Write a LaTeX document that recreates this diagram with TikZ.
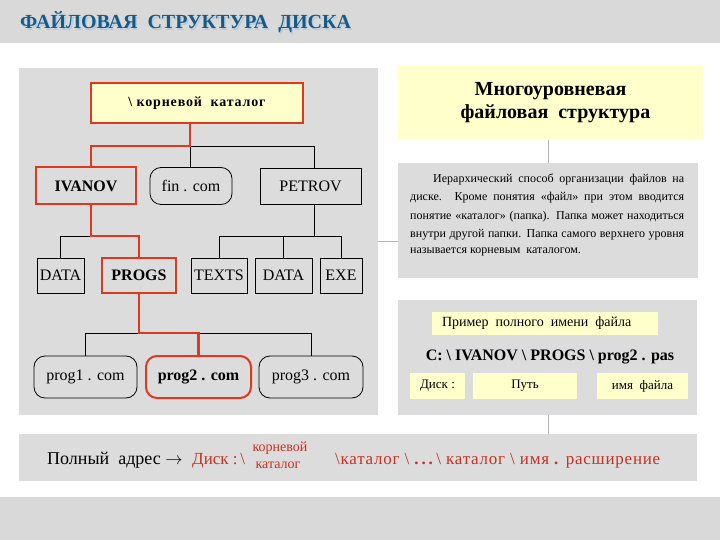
\documentclass[tikz,border=0pt]{standalone}
\usepackage{fontspec}
\setmainfont{Liberation Serif}
\definecolor{pgray}{HTML}{DCDCDC}
\definecolor{hgray}{HTML}{D9D9D9}
\definecolor{pyellow}{HTML}{FFFFCC}
\definecolor{pred}{HTML}{E0381E}
\definecolor{tred}{HTML}{C83020}
\definecolor{tblue}{HTML}{1A5A82}
\definecolor{tshadow}{HTML}{B0CCE2}
\definecolor{cgray}{HTML}{B4B4B4}
\begin{document}
\begin{tikzpicture}[x=1pt,y=-1pt,
  panel/.style={fill=pgray, draw=none, inner sep=0pt},
  ybox/.style={fill=pyellow, draw=none, inner sep=0pt},
  dirbox/.style={draw=black, line width=0.8pt, fill=pgray, inner sep=0pt, font=\fontsize{16}{18}\selectfont},
  reddir/.style={dirbox, draw=pred, line width=2pt, font=\fontsize{16}{18}\selectfont\bfseries},
  filebox/.style={dirbox, rounded corners=11pt},
  redfile/.style={reddir, rounded corners=11pt},
  tline/.style={draw=black, line width=0.8pt},
  rline/.style={draw=pred, line width=2.4pt},
  conn/.style={draw=cgray, line width=1pt},
  ptext/.style={anchor=base west, inner sep=0pt, font=\fontsize{12}{14}\selectfont},
  rtext/.style={inner sep=0pt, text=tred}
]
\useasboundingbox (0,0) rectangle (720,540);
% bands
\fill[hgray] (0,0) rectangle (720,43);
\fill[hgray] (0,497) rectangle (720,540);
\node[anchor=base west, inner sep=0pt, text=tshadow, font=\fontsize{20}{22}\selectfont\bfseries] (titlesh) at (21.5,30.5) {ФАЙЛОВАЯ\ \ СТРУКТУРА\ \ ДИСКА};
\node[anchor=base west, inner sep=0pt, text=tblue, font=\fontsize{20}{22}\selectfont\bfseries] (title) at (20,29) {ФАЙЛОВАЯ\ \ СТРУКТУРА\ \ ДИСКА};

% panels
\node[panel, minimum width=359, minimum height=347] (left) at (198.5,241.5) {};
\node[ybox, minimum width=305, minimum height=73, align=center, font=\fontsize{20}{23}\selectfont\bfseries] (rtitle) at (550.5,103) {Многоуровневая\\ \ \ файловая\ \ структура};
\node[panel, minimum width=300, minimum height=115] (tpanel) at (548,220.5) {};
\node[panel, minimum width=299, minimum height=115] (lpanel) at (547.5,357.5) {};
\node[panel, minimum width=678, minimum height=47] (bottom) at (358,457.5) {};
\coordinate (s1) at (378,241);
\draw[conn] (s1) -- (s1 -| tpanel.west);
\draw[conn] (rtitle.south -| 548,0) -- (tpanel.north -| 548,0);
\draw[conn] (lpanel.south -| 548,0) -- (bottom.north -| 548,0);

% tree nodes
\node[ybox, draw=pred, line width=2pt, minimum width=212, minimum height=40, font=\fontsize{14}{16}\selectfont\bfseries\addfontfeature{LetterSpace=6}] (root) at (197,103) {\textbackslash\ корневой\ \ каталог};
\node[reddir, minimum width=100, minimum height=37] (ivanov) at (86,186) {IVANOV};
\node[filebox, minimum width=82, minimum height=37] (fin) at (191,186) {fin . com};
\node[dirbox, minimum width=101, minimum height=36] (petrov) at (310.5,186) {PETROV};
\node[dirbox, minimum width=47, minimum height=35] (data1) at (60.5,275.5) {DATA};
\node[reddir, minimum width=74, minimum height=35] (progs) at (139,275.5) {PROGS};
\node[dirbox, minimum width=56, minimum height=35] (texts) at (219,275.5) {TEXTS};
\node[dirbox, minimum width=57, minimum height=35] (data2) at (283.5,275.5) {DATA};
\node[dirbox, minimum width=42, minimum height=35] (exe) at (341,275.5) {EXE};
\node[filebox, minimum width=103, minimum height=42] (prog1) at (85.5,377) {prog1 . com};
\node[redfile, minimum width=105, minimum height=42] (prog2) at (198.5,377) {prog2 . com};
\node[filebox, minimum width=104, minimum height=42] (prog3) at (311,377) {prog3 . com};

\coordinate (j1) at (190,146);
\coordinate (ivx) at (91,146);
\coordinate (pj) at (314,146);
\coordinate (j2) at (91,236);
\coordinate (j3) at (314,236);
\coordinate (j4) at (139,333);
% black connectors
\draw[tline] (j1) -- (pj) -- (pj |- petrov.north);
\draw[tline] (j1) -- (j1 |- fin.north);
\draw[tline] (j2) -| (data1.north);
\draw[tline] (pj |- petrov.south) -- (j3);
\draw[tline] (texts.north) |- (j3 -| exe.north) -- (exe.north);
\draw[tline] (j3 -| data2.north) -- (data2.north);
\draw[tline] (prog1.north) |- (j4 -| prog3.north) -- (prog3.north);
% red path
\draw[rline] (root.south -| j1) -- (j1) -- (ivx) -- (ivx |- ivanov.north);
\draw[rline] (ivx |- ivanov.south) -- (j2) -| (progs.north);
\draw[rline] (progs.south) -- (j4) -| (prog2.north);

% paragraph
\node[ptext] (p1) at (433,183) {\makebox[251pt][s]{Иерархический способ организации файлов на}};
\node[ptext] (p2) at (410,201) {\makebox[274pt][s]{диске. Кроме понятия «файл» при этом вводится}};
\node[ptext] (p3) at (410,219) {\makebox[274pt][s]{понятие «каталог» (папка). Папка может находиться}};
\node[ptext] (p4) at (410,237) {\makebox[274pt][s]{внутри другой папки. Папка самого верхнего уровня}};
\node[ptext] (p5) at (410,254) {называется корневым\ \ каталогом.};

% lower right
\node[ybox, minimum width=226, minimum height=23, font=\fontsize{14}{16}\selectfont] (ex) at (545,323.5) {\makebox[226pt][l]{\hspace*{10pt}Пример\ \ полного\ \ имени\ \ файла}};
\node[inner sep=0pt, font=\fontsize{16}{18}\selectfont\bfseries] (full) at (550,357) {C: \textbackslash\ IVANOV \textbackslash\ PROGS \textbackslash\ prog2 . pas};
\node[ybox, minimum width=55, minimum height=26, font=\fontsize{13}{15}\selectfont] (disk) at (437.5,386) {Диск :};
\node[ybox, minimum width=104, minimum height=26, font=\fontsize{13}{15}\selectfont] (path) at (525,386) {Путь};
\node[ybox, minimum width=91, minimum height=26, font=\fontsize{13}{15}\selectfont] (fname) at (642.5,386) {имя\ \ файла};

% bottom formula
\node[anchor=base west, inner sep=0pt, font=\fontsize{18}{20}\selectfont] (b1) at (47,464) {Полный\ \ адрес $\rightarrow$};
\node[anchor=base west, rtext, font=\fontsize{17}{19}\selectfont] (b2) at (192,464) {Диск :\,\textbackslash};
\node[rtext, font=\fontsize{14}{16}\selectfont] (b3) at (280,448) {корневой};
\node[rtext, font=\fontsize{14}{16}\selectfont] (b4) at (278,465) {каталог};
\node[anchor=base west, rtext, font=\fontsize{17}{19}\selectfont\addfontfeature{LetterSpace=4.5}] (b5) at (335,464) {\textbackslash каталог \textbackslash\ \textbf{.\,.\,.}\,\textbackslash\ каталог \textbackslash\ имя \textbf{.} расширение};
\end{tikzpicture}
\end{document}
